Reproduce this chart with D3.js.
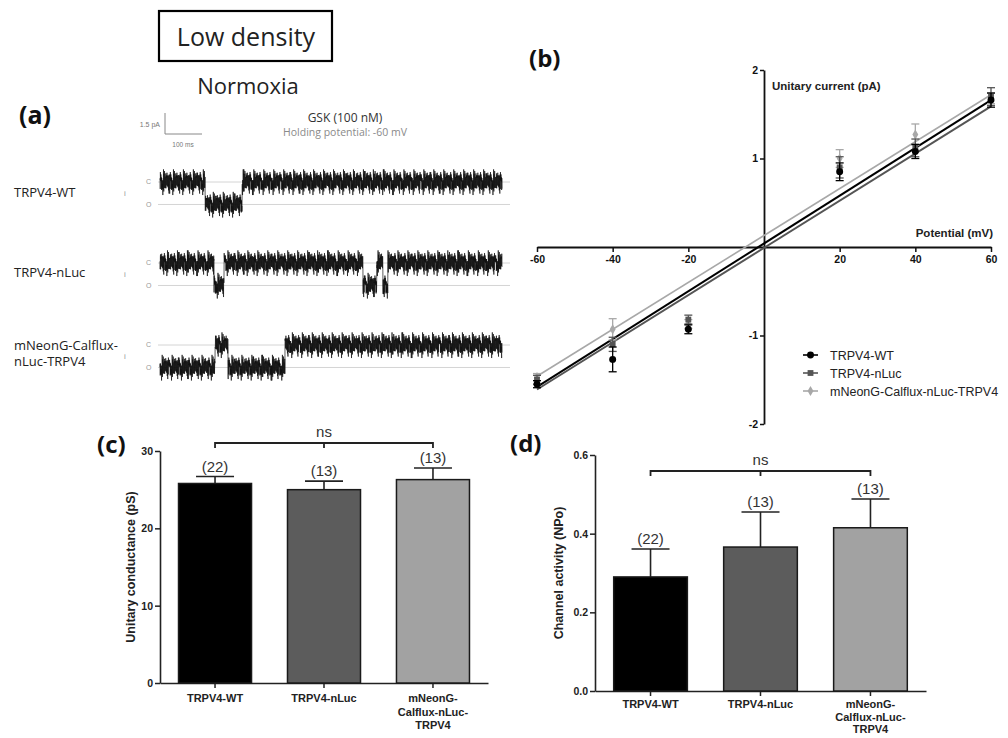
<!DOCTYPE html>
<html><head><meta charset="utf-8">
<script src="https://cdn.jsdelivr.net/npm/d3@7"></script>
<style>
body{margin:0;background:#fff;}
svg{display:block;}
text{font-family:"Liberation Sans",Arial,sans-serif;}
.cal{font-family:"Open Sans","Noto Sans",sans-serif;}
</style></head>
<body>
<svg id="fig" width="1008" height="738"></svg>
<script>
// ---------------- DATA ----------------
// Panel (a): single-channel traces (open intervals in ms), open-level current (pA)
const traceNames = ["TRPV4-WT", "TRPV4-nLuc", "mNeonG-Calflux-\nnLuc-TRPV4"];
const traceDuration = 925; // ms
const wtOpen = [[122, 222]];
const nlucOpen = [[146, 173], [549, 586], [603, 616]];
const neonOpen = [[0, 149], [184, 338]];
const openCurrent = -1.55; // pA
// recorded noise texture (pA)
const noisePattern = [0.12,-0.25,0.31,-0.08,0.22,-0.34,0.05,0.28,-0.19,0.41,-0.27,0.09,-0.38,0.17,0.33,-0.12,0.24,-0.45,0.07,0.36,-0.21,0.14,-0.3,0.52,-0.06,0.19,-0.33,0.27,-0.15,0.08,0.39,-0.24,0.11,-0.41,0.29,-0.03,0.21,-0.36,0.16,0.47,-0.18,0.04,-0.29,0.34,-0.1,0.23,-0.55,0.13,0.3,-0.2,0.06,-0.32,0.26,-0.09,0.44,-0.23,0.15,-0.37,0.02,0.35,-0.14,0.2,-0.28,0.6,-0.07,0.25,-0.4,0.1,0.32,-0.17,-0.62,0.18];

// Panel (b): I-V relationship
const ivSeries = ["TRPV4-WT", "TRPV4-nLuc", "mNeonG-Calflux-nLuc-TRPV4"];
const ivPotentials = [-60, -40, -20, 20, 40, 60];
const ivWT = [-1.55, -1.27, -0.93, 0.85, 1.08, 1.66];
const ivWTerr = [0.04, 0.14, 0.05, 0.10, 0.08, 0.08];
const ivNLuc = [-1.50, -1.10, -0.82, 0.90, 1.12, 1.70];
const ivNLucErr = [0.05, 0.08, 0.05, 0.12, 0.10, 0.10];
const ivNeon = [-1.47, -0.93, -0.87, 1.00, 1.27, 1.68];
const ivNeonErr = [0.04, 0.12, 0.05, 0.10, 0.12, 0.06];
// linear fit end points [mV, pA]
const fitWT = [[-60, -1.58], [60, 1.66]];
const fitNLuc = [[-60, -1.61], [60, 1.59]];
const fitNeon = [[-60, -1.46], [60, 1.72]];
const ivXTicks = [-60, -40, -20, 20, 40, 60];
const ivYTicks = [-2, -1, 1, 2];

// Panels (c) and (d): bar charts
const barCategories = ["TRPV4-WT", "TRPV4-nLuc", "mNeonG-\nCalflux-nLuc-\nTRPV4"];
const barN = ["(22)", "(13)", "(13)"];
const conductance = [25.8, 25.0, 26.3];
const conductanceErr = [0.9, 1.1, 1.5];
const npo = [0.29, 0.366, 0.415];
const npoErr = [0.071, 0.089, 0.073];
const conductanceTicks = [0, 10, 20, 30];
const npoTicks = [0.0, 0.2, 0.4, 0.6];

// ---------------- DRAW ----------------
const svg = d3.select("#fig");
const greyFills = ["#000000", "#5c5c5c", "#a2a2a2"];
const plain = d => String(d);

// ===== Panel (a) =====
svg.append("rect").attr("x", 159).attr("y", 11).attr("width", 173).attr("height", 50)
  .attr("fill", "none").attr("stroke", "#000").attr("stroke-width", 2.2);
svg.append("text").attr("class", "cal").attr("x", 246).attr("y", 46).attr("text-anchor", "middle")
  .attr("font-size", 25).attr("fill", "#222").text("Low density");
svg.append("text").attr("class", "cal").attr("x", 248).attr("y", 94).attr("text-anchor", "middle")
  .attr("font-size", 22).attr("fill", "#222").text("Normoxia");
svg.append("text").attr("class", "cal").attr("x", 19).attr("y", 124)
  .attr("font-size", 25).attr("font-weight", "bold").attr("fill", "#111").text("(a)");

// scale bar
svg.append("path").attr("d", "M165,113V134H202").attr("fill", "none").attr("stroke", "#888").attr("stroke-width", 1);
svg.append("text").attr("x", 160).attr("y", 127).attr("text-anchor", "end").attr("font-size", 7).attr("fill", "#777").text("1.5 pA");
svg.append("text").attr("x", 183).attr("y", 147).attr("text-anchor", "middle").attr("font-size", 6.5).attr("fill", "#777").text("100 ms");
svg.append("text").attr("class", "cal").attr("x", 345).attr("y", 122).attr("text-anchor", "middle")
  .attr("font-size", 12).attr("fill", "#333").text("GSK (100 nM)");
svg.append("text").attr("class", "cal").attr("x", 345).attr("y", 136).attr("text-anchor", "middle")
  .attr("font-size", 10.5).attr("fill", "#8a8a8a").text("Holding potential: -60 mV");

const xT = d3.scaleLinear().domain([0, traceDuration]).range([160, 502]);
const pxPerPA = 14.5;
const traceOpen = [wtOpen, nlucOpen, neonOpen];
const traceC = [182, 263, 345];
const labelY = [[197], [277], [350, 366]];
traceNames.forEach((name, k) => {
  const yT = d3.scaleLinear().domain([0, -1]).range([traceC[k], traceC[k] + pxPerPA]);
  [0, openCurrent].forEach(lv => {
    svg.append("line").attr("x1", 158).attr("x2", 510).attr("y1", yT(lv)).attr("y2", yT(lv))
      .attr("stroke", "#d4d4d4").attr("stroke-width", 1);
  });
  svg.append("text").attr("x", 146).attr("y", yT(0) + 2).attr("font-size", 7).attr("fill", "#999").text("C");
  svg.append("text").attr("x", 146).attr("y", yT(openCurrent) + 3).attr("font-size", 7).attr("fill", "#999").text("O");
  svg.append("text").attr("x", 124).attr("y", (yT(0) + yT(openCurrent)) / 2 + 3).attr("font-size", 8).attr("fill", "#999").text("i");
  name.split("\n").forEach((ln, j) => {
    svg.append("text").attr("class", "cal").attr("x", 14).attr("y", labelY[k][j])
      .attr("font-size", 13).attr("fill", "#222").text(ln);
  });
  const pts = [];
  const n = Math.round(traceDuration / 0.35);
  const L = noisePattern.length;
  for (let i = 0; i <= n; i++) {
    const t = i * 0.35;
    const isOpen = traceOpen[k].some(iv => t >= iv[0] && t <= iv[1]);
    const base = isOpen ? openCurrent : 0;
    const nz = noisePattern[(i * 13 + Math.floor(i / L) * 7 + k * 29) % L] * 1.45;
    pts.push([t, base + nz]);
  }
  svg.append("path").datum(pts)
    .attr("d", d3.line().x(d => xT(d[0])).y(d => yT(d[1])))
    .attr("fill", "none").attr("stroke", "#111").attr("stroke-width", 0.75).attr("stroke-opacity", 0.9);
});

// ===== Panel (b) =====
svg.append("text").attr("class", "cal").attr("x", 529).attr("y", 67)
  .attr("font-size", 24).attr("font-weight", "bold").attr("fill", "#111").text("(b)");
const xB = d3.scaleLinear().domain([-60, 60]).range([537, 991]);
const yB = d3.scaleLinear().domain([-2, 2]).range([424, 70]);
const gB = svg.append("g");
const axX = gB.append("g").attr("transform", `translate(0,${yB(0)})`)
  .call(d3.axisBottom(xB).tickValues(ivXTicks).tickFormat(plain).tickSize(5).tickSizeOuter(0).tickPadding(4));
const axY = gB.append("g").attr("transform", `translate(${xB(0)},0)`)
  .call(d3.axisLeft(yB).tickValues(ivYTicks).tickFormat(plain).tickSize(4).tickSizeOuter(0).tickPadding(2));
[axX, axY].forEach(a => {
  a.select(".domain").attr("stroke", "#111").attr("stroke-width", 1.8);
  a.selectAll(".tick line").attr("stroke", "#111").attr("stroke-width", 1.5);
  a.selectAll(".tick text").attr("font-size", 10.5).attr("font-weight", "bold").attr("fill", "#111")
    .attr("font-family", "Liberation Sans, Arial, sans-serif");
});
gB.append("text").attr("x", 772).attr("y", 90).attr("font-size", 11.5).attr("font-weight", "bold").attr("fill", "#222").text("Unitary current (pA)");
gB.append("text").attr("x", 993).attr("y", 237).attr("text-anchor", "end").attr("font-size", 11.5).attr("font-weight", "bold").attr("fill", "#222").text("Potential (mV)");

const ivCols = ["#000000", "#555555", "#a8a8a8"];
const ivVals = [ivWT, ivNLuc, ivNeon];
const ivErrs = [ivWTerr, ivNLucErr, ivNeonErr];
const fits = [fitWT, fitNLuc, fitNeon];
const fitW = [2, 2, 1.6];
const marker = [d3.symbolCircle, d3.symbolSquare, d3.symbolDiamond];
const markerSize = [38, 34, 30];
[2, 1, 0].forEach(s => {
  gB.append("path").datum(fits[s])
    .attr("d", d3.line().x(d => xB(d[0])).y(d => yB(d[1])))
    .attr("stroke", ivCols[s]).attr("stroke-width", fitW[s]).attr("fill", "none");
});
[2, 1, 0].forEach(s => {
  const g = gB.append("g");
  ivPotentials.forEach((v, i) => {
    const cx = xB(v), m = ivVals[s][i], e = ivErrs[s][i];
    g.append("line").attr("x1", cx).attr("x2", cx).attr("y1", yB(m - e)).attr("y2", yB(m + e))
      .attr("stroke", ivCols[s]).attr("stroke-width", 1.3);
    [m - e, m + e].forEach(c => g.append("line").attr("x1", cx - 4).attr("x2", cx + 4)
      .attr("y1", yB(c)).attr("y2", yB(c)).attr("stroke", ivCols[s]).attr("stroke-width", 1.3));
    g.append("path").attr("transform", `translate(${cx},${yB(m)})`)
      .attr("d", d3.symbol().type(marker[s]).size(markerSize[s])()).attr("fill", ivCols[s]);
  });
});
const legY = [355, 373, 391];
ivSeries.forEach((name, s) => {
  gB.append("line").attr("x1", 803).attr("x2", 818).attr("y1", legY[s]).attr("y2", legY[s])
    .attr("stroke", ivCols[s]).attr("stroke-width", 1.6);
  gB.append("path").attr("transform", `translate(810.5,${legY[s]})`)
    .attr("d", d3.symbol().type(marker[s]).size(markerSize[s])()).attr("fill", ivCols[s]);
  gB.append("text").attr("x", 830).attr("y", legY[s] + 4.5).attr("font-size", 12.5).attr("fill", "#222").text(name);
});

// ===== Bar panels =====
function barPanel(opts) {
  const g = svg.append("g");
  const x = d3.scaleBand().domain(barCategories).range(opts.xr).paddingInner(0.33).paddingOuter(0.17);
  const y = d3.scaleLinear().domain(opts.yd).range(opts.yr);
  const ax = g.append("g").attr("transform", `translate(${opts.xr[0]},0)`)
    .call(d3.axisLeft(y).tickValues(opts.ticks).tickFormat(opts.fmt).tickSize(5).tickSizeOuter(0).tickPadding(2));
  const bx = g.append("g").attr("transform", `translate(0,${opts.yr[0]})`)
    .call(d3.axisBottom(x).tickSize(5).tickSizeOuter(0).tickFormat(""));
  [ax, bx].forEach(a => {
    a.select(".domain").attr("stroke", "#222").attr("stroke-width", 1.6);
    a.selectAll(".tick line").attr("stroke", "#222").attr("stroke-width", 1.5);
    a.selectAll(".tick text").attr("font-size", 10.5).attr("font-weight", "bold").attr("fill", "#222")
      .attr("font-family", "Liberation Sans, Arial, sans-serif");
  });
  barCategories.forEach((c, i) => {
    const x0 = x(c), w = x.bandwidth(), cx = x0 + w / 2;
    const v = opts.vals[i], e = opts.errs[i];
    g.append("line").attr("x1", cx).attr("x2", cx).attr("y1", y(v)).attr("y2", y(v + e)).attr("stroke", "#222").attr("stroke-width", 1.6);
    g.append("line").attr("x1", cx - 19).attr("x2", cx + 19).attr("y1", y(v + e)).attr("y2", y(v + e)).attr("stroke", "#222").attr("stroke-width", 1.6);
    g.append("rect").attr("x", x0).attr("y", y(v)).attr("width", w).attr("height", y(0) - y(v))
      .attr("fill", greyFills[i]).attr("stroke", "#1a1a1a").attr("stroke-width", 1.5);
    g.append("text").attr("x", cx).attr("y", y(v + e) - 5).attr("text-anchor", "middle")
      .attr("font-size", 15).attr("fill", "#333").text(barN[i]);
    c.split("\n").forEach((ln, j) => {
      g.append("text").attr("x", cx).attr("y", opts.yr[0] + opts.lab0 + j * opts.labStep).attr("text-anchor", "middle")
        .attr("font-size", 11).attr("font-weight", "bold").attr("fill", "#222").text(ln);
    });
  });
  const a = x(barCategories[0]) + x.bandwidth() / 2, b = x(barCategories[2]) + x.bandwidth() / 2;
  const m = x(barCategories[1]) + x.bandwidth() / 2;
  g.append("path").attr("d", `M${a},${opts.brY + 5}V${opts.brY}H${b}V${opts.brY + 5}M${m},${opts.brY}V${opts.brY + 5}`)
    .attr("fill", "none").attr("stroke", "#222").attr("stroke-width", 1.8);
  g.append("text").attr("x", m).attr("y", opts.brY - 6).attr("text-anchor", "middle").attr("font-size", 15).attr("fill", "#333").text("ns");
  const ly = (opts.yr[0] + opts.yr[1]) / 2;
  g.append("text").attr("transform", `translate(${opts.labX},${ly}) rotate(-90)`).attr("text-anchor", "middle")
    .attr("font-size", opts.labSize).attr("font-weight", "bold").attr("fill", "#222").text(opts.label);
  svg.append("text").attr("class", "cal").attr("x", opts.pl[0]).attr("y", opts.pl[1])
    .attr("font-size", 24).attr("font-weight", "bold").attr("fill", "#111").text(opts.pan);
}
barPanel({xr: [160, 488], yr: [683, 451], yd: [0, 30], ticks: conductanceTicks, fmt: d3.format("d"),
  vals: conductance, errs: conductanceErr, brY: 443, labX: 135, labSize: 12.5, label: "Unitary conductance (pS)", pan: "(c)", pl: [97, 453],
  lab0: 19, labStep: 13.5});
barPanel({xr: [595, 926], yr: [691, 455], yd: [0, 0.6], ticks: npoTicks, fmt: d3.format(".1f"),
  vals: npo, errs: npoErr, brY: 471, labX: 563, labSize: 12.5, label: "Channel activity (NPo)", pan: "(d)", pl: [510, 452],
  lab0: 17, labStep: 12.5});
</script>
</body></html>
